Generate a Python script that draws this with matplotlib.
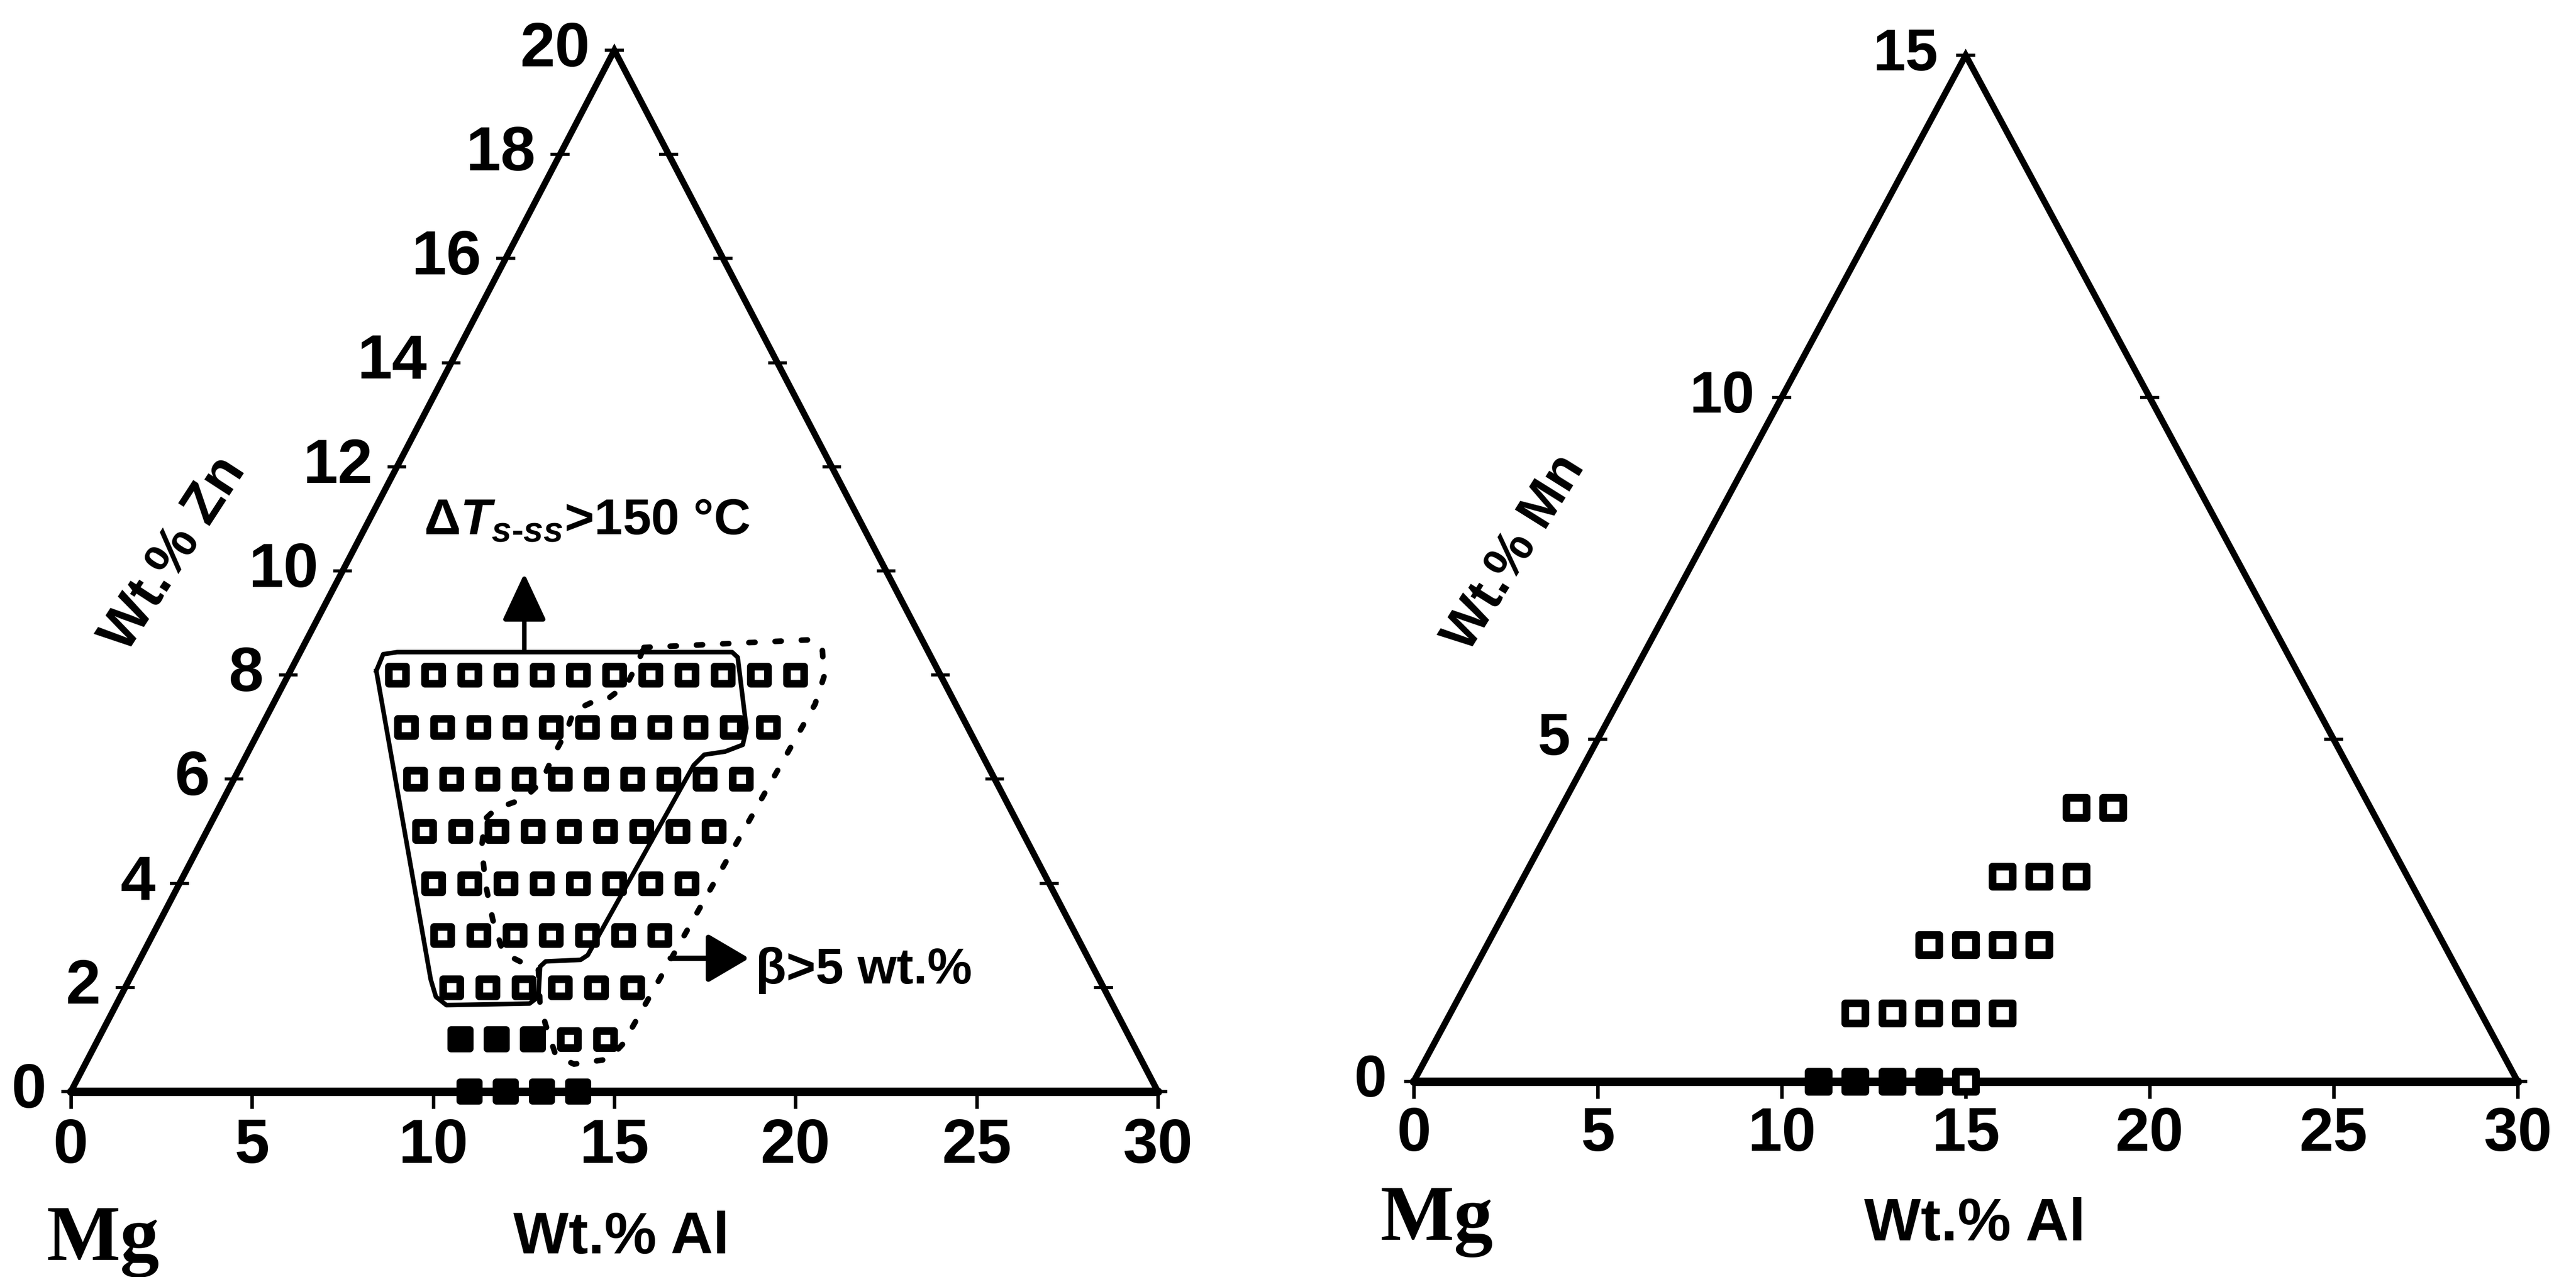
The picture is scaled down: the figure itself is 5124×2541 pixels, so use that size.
import numpy as np
import matplotlib
matplotlib.use("Agg")
import matplotlib.pyplot as plt
from matplotlib.markers import MarkerStyle

SANS = "Liberation Sans"
SERIF = "Liberation Serif"

plt.rcParams["font.family"] = [SANS, "DejaVu Sans"]
plt.rcParams["mathtext.fontset"] = "custom"
plt.rcParams["mathtext.rm"] = SANS + ":bold"
plt.rcParams["mathtext.it"] = SANS + ":italic:bold"

# ---- Mg-Al-Zn: Al contents (wt.%) at each Zn level ----
al_zn8 = [3, 4, 5, 6, 7, 8, 9, 10, 11, 12, 13, 14]
al_zn7 = [4, 5, 6, 7, 8, 9, 10, 11, 12, 13, 14]
al_zn6 = [5, 6, 7, 8, 9, 10, 11, 12, 13, 14]
al_zn5 = [6, 7, 8, 9, 10, 11, 12, 13, 14]
al_zn4 = [7, 8, 9, 10, 11, 12, 13, 14]
al_zn3 = [8, 9, 10, 11, 12, 13, 14]
al_zn2 = [9, 10, 11, 12, 13, 14]
al_zn1_open = [13, 14]
al_zn1_solid = [10, 11, 12]
al_zn0_solid = [11, 12, 13, 14]

# ---- Mg-Al-Mn: Al contents (wt.%) at each Mn level ----
al_mn4 = [14, 15]
al_mn3 = [13, 14, 15]
al_mn2 = [12, 13, 14, 15]
al_mn1 = [11, 12, 13, 14, 15]
al_mn0_open = [15]
al_mn0_solid = [11, 12, 13, 14]

# region boundaries, composition (Al, Zn)
dT_al = [2.37, 2.32, 2.68, 11.92, 12.15, 13.41, 13.55, 13.16, 12.63, 12.49,
         12.30, 12.17, 11.23, 11.15, 11.54, 11.39, 9.12, 8.71, 8.32, 2.37]
dT_zn = [8.08, 8.40, 8.44, 8.44, 8.34, 6.98, 6.66, 6.53, 6.47, 6.27,
         2.62, 2.53, 2.50, 2.40, 1.82, 1.69, 1.66, 1.82, 2.15, 8.08]
beta_al = [9.42, 13.99, 14.39, 14.81, 14.96, 14.55, 14.38, 13.49, 12.87, 12.12,
           11.68, 11.15, 10.66, 9.94, 9.17, 8.43, 7.80, 7.51, 7.66, 8.29,
           8.53, 8.48, 8.49, 8.40, 8.76, 9.18, 9.48, 9.47, 9.42]
beta_zn = [8.53, 8.68, 8.47, 7.97, 7.44, 0.915, 0.623, 0.527, 0.688, 1.30,
           1.69, 2.34, 2.46, 2.66, 3.30, 4.01, 4.72, 5.24, 5.43, 5.63,
           5.95, 6.41, 6.92, 7.31, 7.47, 7.56, 7.82, 8.21, 8.53]

al_ticks = [0, 5, 10, 15, 20, 25, 30]
zn_ticks = [0, 2, 4, 6, 8, 10, 12, 14, 16, 18, 20]
mn_ticks = [0, 5, 10, 15]
AL_MAX, ZN_MAX, MN_MAX = 30, 20, 15


def tern(al, c, cmax):
    """Al on the base, third component up towards the apex."""
    al = np.asarray(al, float)
    c = np.asarray(c, float)
    return al + c * (AL_MAX / 2) / cmax, c


def rows(pairs):
    al = np.concatenate([np.asarray(a, float) for _, a in pairs])
    c = np.concatenate([np.full(len(a), lev, float) for lev, a in pairs])
    return al, c


def frame(ax, cmax, cticks, label_off, base_off, fs_side, fs_base):
    x, y = tern([0, 0, AL_MAX, 0], [0, cmax, 0, 0], cmax)
    ax.plot(x[:3], y[:3], color="black", lw=9, solid_capstyle="round",
            solid_joinstyle="miter", zorder=2)
    ax.plot(x[2:], y[2:], color="black", lw=12, solid_capstyle="round", zorder=4)
    # edge ticks
    cl = np.asarray(cticks, float)
    xl, _ = tern(np.zeros_like(cl), cl, cmax)
    xr = AL_MAX - xl
    half = 0.26
    ax.hlines(cl, xl - half, xl + half, color="black", lw=4.5, zorder=2)
    ax.hlines(cl, xr - half, xr + half, color="black", lw=4.5, zorder=2)
    ax.vlines(al_ticks, -0.33 * cmax / 20, 0, color="black", lw=5, zorder=2)
    for v, xv in zip(cticks, xl):
        ax.annotate(str(v), xy=(xv, v), xytext=(label_off, 0),
                    textcoords="offset points", ha="right", va="center",
                    fontsize=fs_side, fontweight="bold")
    for v in al_ticks:
        ax.annotate(str(v), xy=(v, 0), xytext=(0, base_off),
                    textcoords="offset points", ha="center", va="center",
                    fontsize=fs_base, fontweight="bold")


sq = MarkerStyle("s", joinstyle="round")

fig = plt.figure(figsize=(51.24, 25.41), dpi=100)
ax1 = fig.add_axes([0, 0, 0.5, 1])
ax2 = fig.add_axes([0.5, 0, 0.5, 1])
for ax in (ax1, ax2):
    ax.set_axis_off()
ax1.set_xlim(-1.9564, 33.593)
ax1.set_ylim(-3.5618, 20.965)
ax2.set_xlim(-3.4153, 31.585)
ax2.set_ylim(-2.8576, 15.808)

# ---------------- Mg-Al-Zn ----------------
frame(ax1, ZN_MAX, zn_ticks, -35, -79, 90, 90)

al_o, zn_o = rows([(8, al_zn8), (7, al_zn7), (6, al_zn6), (5, al_zn5),
                   (4, al_zn4), (3, al_zn3), (2, al_zn2), (1, al_zn1_open)])
al_s, zn_s = rows([(1, al_zn1_solid), (0, al_zn0_solid)])
px, py = tern(al_o, zn_o, ZN_MAX)
ax1.plot(px, py, ls="none", marker=sq, ms=25, mew=11, mfc="white",
         mec="black", zorder=3)
px, py = tern(al_s, zn_s, ZN_MAX)
ax1.plot(px, py, ls="none", marker=sq, ms=27, mew=10, mfc="black",
         mec="black", zorder=5)

px, py = tern(dT_al, dT_zn, ZN_MAX)
ax1.plot(px, py, color="black", lw=6.5, solid_joinstyle="round", zorder=4)
px, py = tern(beta_al, beta_zn, ZN_MAX)
ax1.plot(px, py, color="black", lw=8, ls=(0, (1.1, 3.6)),
         dash_capstyle="round", zorder=4)

ax1.annotate("", xy=(12.515, 9.95), xytext=(12.515, 8.45),
             arrowprops=dict(arrowstyle="-|>,head_length=0.58,head_width=0.27",
                             mutation_scale=100, lw=6.5, color="black",
                             shrinkA=0, shrinkB=0))
ax1.text(9.74, 10.70, r"$\Delta T_{s\text{-}ss}$>150 °C", ha="left",
         va="baseline", fontsize=73, fontweight="bold")
ax1.annotate("", xy=(18.72, 2.56), xytext=(16.54, 2.56),
             arrowprops=dict(arrowstyle="-|>,head_length=0.51,head_width=0.30",
                             mutation_scale=100, lw=7.5, color="black",
                             shrinkA=0, shrinkB=0))
ax1.text(18.90, 2.075, "β>5 wt.%", ha="left", va="baseline",
         fontsize=72, fontweight="bold")

ax1.text(15.19, -2.81, "Wt.% Al", ha="center", va="center",
         fontsize=84, fontweight="bold")
ax1.text(-0.68, -3.23, "Mg", ha="left", va="baseline", family=SERIF,
         fontsize=112, fontweight="bold")
ax1.text(2.845, 10.32, "Wt.% Zn", ha="center", va="center", rotation=57,
         rotation_mode="anchor", fontsize=80, fontweight="bold")

# ---------------- Mg-Al-Mn ----------------
frame(ax2, MN_MAX, mn_ticks, -39, -76, 84, 88)

al_o, mn_o = rows([(4, al_mn4), (3, al_mn3), (2, al_mn2), (1, al_mn1),
                   (0, al_mn0_open)])
al_s, mn_s = rows([(0, al_mn0_solid)])
px, py = tern(al_s, mn_s, MN_MAX)
ax2.plot(px, py, ls="none", marker=sq, ms=29, mew=11, mfc="black",
         mec="black", zorder=3)
px, py = tern(al_o, mn_o, MN_MAX)
ax2.plot(px, py, ls="none", marker=sq, ms=29, mew=11, mfc="white",
         mec="black", zorder=5)

ax2.text(15.25, -2.10, "Wt.% Al", ha="center", va="center",
         fontsize=86, fontweight="bold")
ax2.text(-0.915, -2.314, "Mg", ha="left", va="baseline", family=SERIF,
         fontsize=112, fontweight="bold")
ax2.text(2.746, 7.72, "Wt.% Mn", ha="center", va="center", rotation=58,
         rotation_mode="anchor", fontsize=76, fontweight="bold")

fig.savefig("out.png", dpi=100, facecolor="white")
